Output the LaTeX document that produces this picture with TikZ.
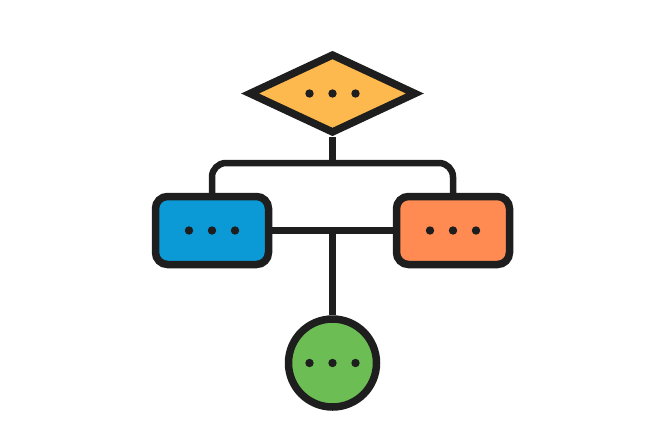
\documentclass[tikz,border=0pt]{standalone}
\usetikzlibrary{shapes.geometric,backgrounds}
\definecolor{ink}{HTML}{1E1E1E}
\definecolor{dyellow}{HTML}{FDB94E}
\definecolor{bblue}{HTML}{0B9AD5}
\definecolor{borange}{HTML}{FF8A52}
\definecolor{cgreen}{HTML}{6DBD55}
\tikzset{
  shapeline/.style={draw=ink, line width=7.5pt},
  conn/.style={draw=ink, line width=6.5pt},
  decision/.style={shapeline, diamond, fill=dyellow, inner sep=0pt, minimum width=168pt, minimum height=80pt},
  procbox/.style={shapeline, rectangle, rounded corners=12pt, inner sep=0pt, minimum width=113pt, minimum height=68pt},
  endcircle/.style={shapeline, circle, fill=cgreen, inner sep=0pt, minimum size=88pt},
  dot/.style={fill=ink}
}
\begin{document}
\begin{tikzpicture}[x=1pt,y=-1pt]
\useasboundingbox (0,0) rectangle (660,432);
\coordinate (j) at (332.5,163);
\coordinate (k) at (332.5,230.5);
\node[decision] (d) at (332.5,93.5) {};
\node[procbox, fill=bblue] (b) at (212,230.5) {};
\node[procbox, fill=borange] (o) at (453,230.5) {};
\node[endcircle] (c) at (332.5,363) {};
\begin{scope}[on background layer]
\draw[conn] (d.south) -- (j);
\draw[conn, rounded corners=14pt] (b.north) |- (j) -| (o.north);
\draw[conn] (b.east) -- (o.west);
\draw[conn] (k) -- (c.north);
\end{scope}
\foreach \n in {d,b,o,c}
  \foreach \dx in {-23,0,23}
    \fill[dot] ([xshift=\dx pt]\n.center) circle (4.2pt);
\end{tikzpicture}
\end{document}
